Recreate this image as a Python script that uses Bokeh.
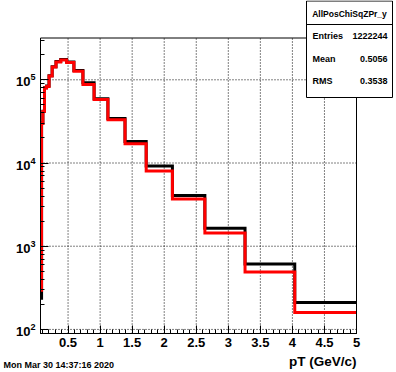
import math
from bokeh.plotting import figure
from bokeh.models import (FixedTicker, CustomJSTickFormatter, Label, BoxAnnotation, Range1d)
from bokeh.embed import file_html
from bokeh.resources import INLINE

# ---- data ----
bin_edges = [0.070, 0.0867, 0.1072, 0.1328, 0.1643, 0.2034, 0.2518, 0.3117, 0.3859,
             0.4777, 0.5913, 0.7320, 0.9062, 1.1218, 1.3887, 1.7190, 2.1280, 2.6343,
             3.2610, 4.0368, 5.0]
counts_black = [237, 30200, 42000, 80500, 84000, 112000, 144000, 165500, 175000, 163500,
                129000, 92000, 59200, 34300, 18150, 9180, 4080, 1640, 611, 210]
counts_red = [296, 29900, 41600, 79700, 83100, 111000, 142500, 163700, 173000, 161400,
              126900, 87800, 58100, 33100, 17060, 8000, 3690, 1440, 490, 160]
x_ticks = [0.5, 1, 1.5, 2, 2.5, 3, 3.5, 4, 4.5, 5]
y_ticks = [1e2, 1e3, 1e4, 1e5]
x_title = "pT (GeV/c)"
stats_title = "AllPosChiSqZPr_y"
stats_names = ["Entries", "Mean", "RMS"]
stats_values = ["1222244", "0.5056", "0.3538"]
date_text = "Mon Mar 30 14:37:16 2020"

# axis limits of the histogram frame
x_lo, x_hi = 0.07, 5.0
y_lo, y_hi = 89.3, 318000.0

FONT = "Liberation Sans"
W, H = 396, 372
# where the histogram frame sits inside the canvas (pixels)
PX_L, PX_R, PX_T, PX_B = 40, 356, 37.5, 333

sxp = (x_hi - x_lo) / (PX_R - PX_L)
xr = Range1d(x_lo - PX_L * sxp, x_hi + (W - PX_R) * sxp)
ly_lo, ly_hi = math.log10(y_lo), math.log10(y_hi)
syp = (ly_hi - ly_lo) / (PX_B - PX_T)
yr = Range1d(10 ** (ly_lo - (H - PX_B) * syp), 10 ** (ly_hi + PX_T * syp))

p = figure(width=W, height=H, title=None, x_range=xr, y_range=yr,
           y_axis_type="log", output_backend="svg", toolbar_location=None,
           min_border=0)
p.background_fill_color = "white"
p.border_fill_color = "white"
p.outline_line_color = None
p.xgrid.visible = False
p.ygrid.visible = False

# grid (dotted, at major ticks, inside the histogram frame)
p.segment(x0=x_ticks, y0=[y_lo] * len(x_ticks), x1=x_ticks, y1=[y_hi] * len(x_ticks),
          line_color="black", line_width=1, line_dash="1 2")
p.segment(x0=[x_lo] * len(y_ticks), y0=y_ticks, x1=[x_hi] * len(y_ticks), y1=y_ticks,
          line_color="black", line_width=1, line_dash="1 2")

# x axis pinned to the frame bottom
x_minor = [round(0.1 * i, 1) for i in range(1, 51)]
xt = FixedTicker(ticks=x_ticks, minor_ticks=x_minor)
xa = p.xaxis[0]
xa.ticker = xt
xa.fixed_location = y_lo
xa.bounds = (x_lo, x_hi)
xa.formatter = CustomJSTickFormatter(code="return String(tick);")
xa.major_tick_in = 8
xa.major_tick_out = 0
xa.minor_tick_in = 4
xa.minor_tick_out = 0
xa.major_label_standoff = 4
xa.major_label_text_font = FONT
xa.major_label_text_font_style = "bold"
xa.major_label_text_font_size = "13px"
xa.major_label_text_color = "black"
xa.axis_line_color = "black"
xa.major_tick_line_color = "black"
xa.minor_tick_line_color = "black"

# y axis pinned to the frame left
y_minor = [m * 10 ** k for k in range(1, 6) for m in range(2, 10) if y_lo <= m * 10 ** k <= y_hi]
yt = FixedTicker(ticks=y_ticks, minor_ticks=y_minor)
ya = p.yaxis[0]
ya.ticker = yt
ya.fixed_location = x_lo
ya.bounds = (y_lo, y_hi)
ya.major_tick_in = 8
ya.major_tick_out = 0
ya.minor_tick_in = 4
ya.minor_tick_out = 0
ya.major_label_standoff = 5
ya.major_label_text_font = FONT
ya.major_label_text_font_style = "bold"
ya.major_label_text_font_size = "13px"
ya.major_label_text_color = "black"
ya.axis_line_color = "black"
ya.major_tick_line_color = "black"
ya.minor_tick_line_color = "black"

# histograms
p.step(bin_edges, counts_black + [counts_black[-1]], mode="after",
       line_color="black", line_width=3, line_join="miter")
p.step(bin_edges, counts_red + [counts_red[-1]], mode="after",
       line_color="#ff0000", line_width=3, line_join="miter")

# frame outline
p.add_layout(BoxAnnotation(left=x_lo, right=x_hi, bottom=y_lo, top=y_hi,
                           fill_alpha=0.0, line_color="black", line_width=1, line_alpha=1.0))

# stats box (canvas units, y measured from canvas top)
def canvas_box(**kw):
    return BoxAnnotation(left_units="canvas", right_units="canvas",
                         top_units="canvas", bottom_units="canvas", **kw)

bl, br, bt, bb = 306, 392, 0.5, 97
p.add_layout(canvas_box(left=bl, right=br, top=bt, bottom=bb,
                        fill_color="white", fill_alpha=1.0,
                        line_color="black", line_width=1, line_alpha=1.0))
p.add_layout(canvas_box(left=bl, right=br, top=24, bottom=24,
                        fill_alpha=0.0, line_color="black", line_width=1, line_alpha=1.0))
p.add_layout(Label(x=(bl + br) / 2, y=13, x_units="canvas", y_units="canvas",
                   text=stats_title, text_align="center", text_baseline="middle",
                   text_font=FONT, text_font_style="bold", text_font_size="8.5px",
                   text_color="black"))
row_y = [35, 58, 80]
for name, val, ry in zip(stats_names, stats_values, row_y):
    p.add_layout(Label(x=bl + 6, y=ry, x_units="canvas", y_units="canvas",
                       text=name, text_align="left", text_baseline="middle",
                       text_font=FONT, text_font_style="bold", text_font_size="9px",
                       text_color="black"))
    p.add_layout(Label(x=br - 5, y=ry, x_units="canvas", y_units="canvas",
                       text=val, text_align="right", text_baseline="middle",
                       text_font=FONT, text_font_style="bold", text_font_size="9px",
                       text_color="black"))

# axis title
p.add_layout(Label(x=PX_R, y=361, x_units="canvas", y_units="canvas",
                   text=x_title, text_align="right", text_baseline="alphabetic",
                   text_font=FONT, text_font_style="bold", text_font_size="13.5px",
                   text_color="black"))
# date stamp
p.add_layout(Label(x=3, y=364, x_units="canvas", y_units="canvas",
                   text=date_text, text_align="left", text_baseline="middle",
                   text_font=FONT, text_font_style="bold", text_font_size="9px",
                   text_color="black"))

open("out.html", "w").write(file_html(p, INLINE))
